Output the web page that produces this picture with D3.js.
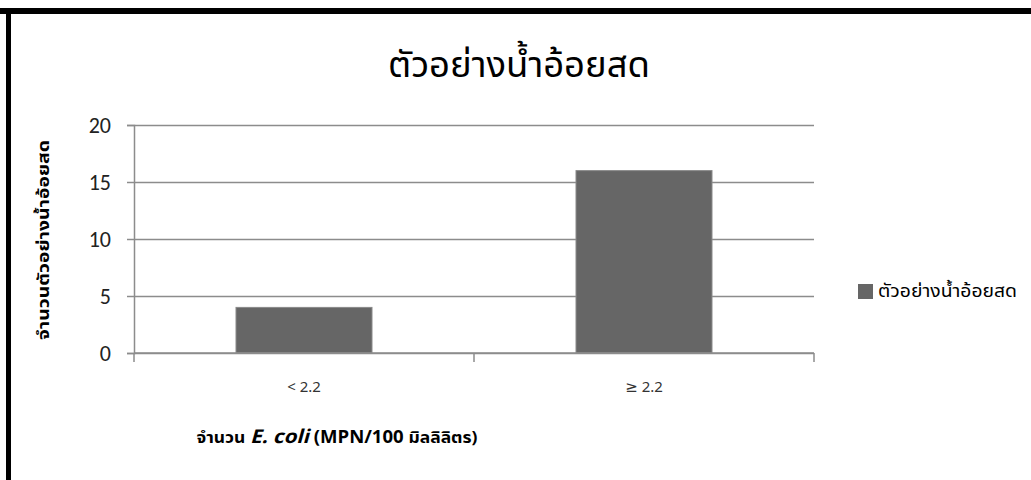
<!DOCTYPE html>
<html>
<head>
<meta charset="utf-8">
<script src="https://cdn.jsdelivr.net/npm/d3@7"></script>
<style>
	body { margin: 0; background: #fff; }
	svg text { font-family: "Noto Sans Thai", "Noto Sans", "DejaVu Sans", sans-serif; }
</style>
</head>
<body>
<div id="graphic"></div>
<script>
// data
const categories = ['< 2.2', '≥ 2.2'];
const values = [4, 16];
const yTicks = [0, 5, 10, 15, 20];
const seriesName = 'ตัวอย่างน้ำอ้อยสด';

const width = 1031, height = 480;
const margin = { top: 125, left: 134, right: 217, bottom: 127 };
const chartWidth = width - margin.left - margin.right;
const chartHeight = height - margin.top - margin.bottom;

const svg = d3.select('#graphic').append('svg')
	.attr('width', width)
	.attr('height', height);

// black frame (top + left only, as in the screenshot)
svg.append('rect').attr('x', 0).attr('y', 8).attr('width', width).attr('height', 6).attr('fill', '#000');
svg.append('rect').attr('x', 6).attr('y', 8).attr('width', 5).attr('height', height).attr('fill', '#000');

const g = svg.append('g').attr('transform', `translate(${margin.left},${margin.top})`);

const x = d3.scaleBand()
	.domain(categories)
	.range([0, chartWidth])
	.paddingInner(0.6)
	.paddingOuter(0.3);

const y = d3.scaleLinear()
	.domain([0, 20])
	.range([chartHeight, 0]);

// gridlines
g.append('g')
	.attr('class', 'grid')
	.call(d3.axisLeft(y).tickValues(yTicks).tickSize(-chartWidth).tickFormat(''))
	.call(s => s.select('.domain').remove())
	.call(s => s.selectAll('line').attr('stroke', '#8c8c8c').attr('stroke-width', 1.5));

// bars
g.selectAll('rect.bar')
	.data(values)
	.enter()
	.append('rect')
	.attr('class', 'bar')
	.attr('x', (d, i) => x(categories[i]))
	.attr('y', d => y(d))
	.attr('width', x.bandwidth())
	.attr('height', d => chartHeight - y(d))
	.attr('fill', '#666666')
	.attr('stroke', '#8a8a8a')
	.attr('stroke-width', 1);

// y axis
g.append('g')
	.attr('class', 'y axis')
	.call(d3.axisLeft(y).tickValues(yTicks).tickSize(7).tickPadding(16))
	.call(s => s.select('.domain').attr('stroke', '#8c8c8c').attr('stroke-width', 1.5))
	.call(s => s.selectAll('line').attr('stroke', '#8c8c8c').attr('stroke-width', 1.5))
	.call(s => s.selectAll('text')
		.attr('fill', '#222')
		.style('font-family', 'Carlito, "Open Sans", sans-serif')
		.style('font-size', '22px'));

// x axis: ticks at band edges
const edges = [0, chartWidth / 2, chartWidth];
const xa = g.append('g').attr('class', 'x axis').attr('transform', `translate(0,${chartHeight})`);
xa.append('line').attr('x1', 0).attr('x2', chartWidth).attr('stroke', '#8c8c8c').attr('stroke-width', 1.5);
xa.selectAll('line.tick')
	.data(edges)
	.enter()
	.append('line')
	.attr('x1', d => d).attr('x2', d => d)
	.attr('y1', 0).attr('y2', 9)
	.attr('stroke', '#8c8c8c').attr('stroke-width', 1.5);
xa.selectAll('text')
	.data(categories)
	.enter()
	.append('text')
	.attr('x', d => x(d) + x.bandwidth() / 2)
	.attr('y', 39)
	.attr('text-anchor', 'middle')
	.attr('fill', '#333')
	.style('font-size', '15px')
	.text(d => d);

// title
svg.append('text')
	.attr('x', 519)
	.attr('y', 77)
	.attr('text-anchor', 'middle')
	.attr('fill', '#000')
	.style('font-size', '36px')
	.attr('textLength', 262)
	.attr('lengthAdjust', 'spacingAndGlyphs')
	.text(seriesName);

// y axis title
svg.append('text')
	.attr('transform', 'translate(49,240) rotate(-90)')
	.attr('text-anchor', 'middle')
	.attr('fill', '#000')
	.style('font-size', '15px')
	.style('font-weight', 'bold')
	.attr('textLength', 200)
	.attr('lengthAdjust', 'spacingAndGlyphs')
	.text('จำนวนตัวอย่างน้ำอ้อยสด');

// x axis title
const xt = svg.append('text')
	.attr('x', 337)
	.attr('y', 443)
	.attr('text-anchor', 'middle')
	.attr('fill', '#000')
	.style('font-size', '16px')
	.style('font-weight', 'bold')
	.attr('textLength', 281)
	.attr('lengthAdjust', 'spacingAndGlyphs');
xt.append('tspan').text('จำนวน ');
xt.append('tspan').style('font-style', 'italic').style('font-size', '19px').text('E. coli');
xt.append('tspan').style('font-size', '17px').text(' (MPN/100 ');
xt.append('tspan').text('มิลลิลิตร)');

// legend
const lg = svg.append('g').attr('transform', 'translate(858,284)');
lg.append('rect').attr('width', 15).attr('height', 15).attr('fill', '#666666');
lg.append('text')
	.attr('x', 20)
	.attr('y', 13)
	.attr('fill', '#000')
	.style('font-size', '17px')
	.attr('textLength', 139)
	.attr('lengthAdjust', 'spacingAndGlyphs')
	.text(seriesName);
</script>
</body>
</html>
